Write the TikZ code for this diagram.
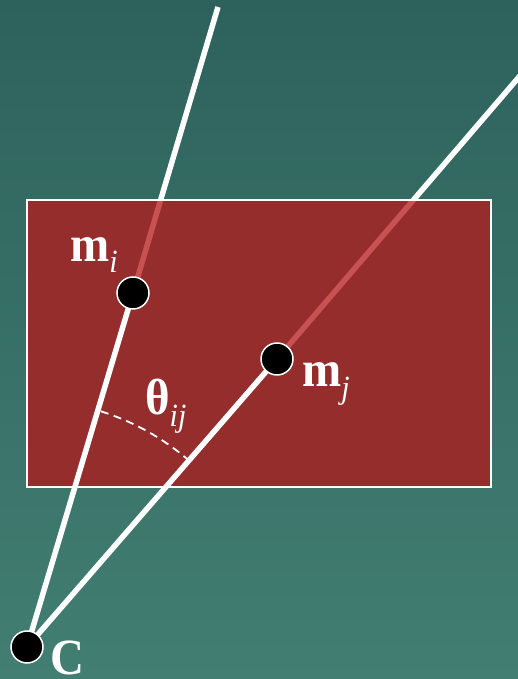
\documentclass[tikz,border=0pt]{standalone}
\usepackage{fontspec}
\setmainfont{Liberation Serif}
\usetikzlibrary{calc}
\definecolor{bgtop}{RGB}{45,98,92}
\definecolor{bgbot}{RGB}{66,126,114}
\definecolor{planered}{RGB}{149,45,44}
\definecolor{fadeline}{RGB}{200,82,82}
\newcommand{\vstretch}[1]{\scalebox{1}[1.08]{#1}}
\newcommand{\subtxt}[1]{{\fontsize{30}{30}\selectfont\itshape #1}}
\begin{document}
\begin{tikzpicture}[x=1pt,y=1pt,
  ray/.style={white, line width=5.5pt},
  fadedray/.style={fadeline, line width=5.5pt},
  dotnode/.style={circle, fill=black, draw=white, line width=1.5pt, minimum size=32pt, inner sep=0pt},
  lbl/.style={text=white, inner sep=0pt, font=\fontsize{47}{47}\selectfont},
  anglemark/.style={white, line width=1.8pt, dash pattern=on 8pt off 5.5pt}]
\useasboundingbox (0,0) rectangle (518,679);
\clip (0,0) rectangle (518,679);
\shade[top color=bgtop, bottom color=bgbot] (0,0) rectangle (518,679);
% points
\coordinate (C) at (27,32);
\coordinate (T1) at (218,672);
\coordinate (T2) at (540,626.5);
\coordinate (R1) at (27,192);
\coordinate (R2) at (491,479);
\path (133,386) coordinate (Mi) (277,320) coordinate (Mj);
% far parts of the rays (behind the plane)
\draw[ray] (Mi) -- (T1);
\draw[ray] (Mj) -- (T2);
% image plane
\fill[planered] (R1) rectangle (R2);
\begin{scope}
  \clip (R1) rectangle (R2);
  \draw[fadedray] (Mi) -- (T1);
  \draw[fadedray] (Mj) -- (T2);
\end{scope}
\draw[white, line width=2pt] (R1) rectangle (R2);
% near parts of the rays
\draw[ray] (C) -- (Mi);
\draw[ray] (C) -- (Mj);
% angle
\draw[anglemark] (C) ++(72.6:247) arc[start angle=72.6, end angle=48.6, radius=247];
% dots
\node[dotnode] (mi) at (Mi) {};
\node[dotnode] (mj) at (Mj) {};
\node[dotnode] (c) at (C) {};
% labels
\node[lbl, anchor=base west] (lmi) at (70,417) {\vstretch{\textbf{m}\raisebox{-10pt}{\subtxt{i}}}};
\node[lbl, anchor=base west] (lmj) at (302,292) {\vstretch{\textbf{m}\raisebox{-11pt}{\subtxt{j}}}};
\node[lbl, anchor=base west] (lth) at (145,264) {\vstretch{\textbf{θ}\raisebox{-11pt}{\subtxt{ij}}}};
\node[lbl, anchor=base west] (lc) at (50,5) {\vstretch{\textbf{C}}};
\end{tikzpicture}
\end{document}
